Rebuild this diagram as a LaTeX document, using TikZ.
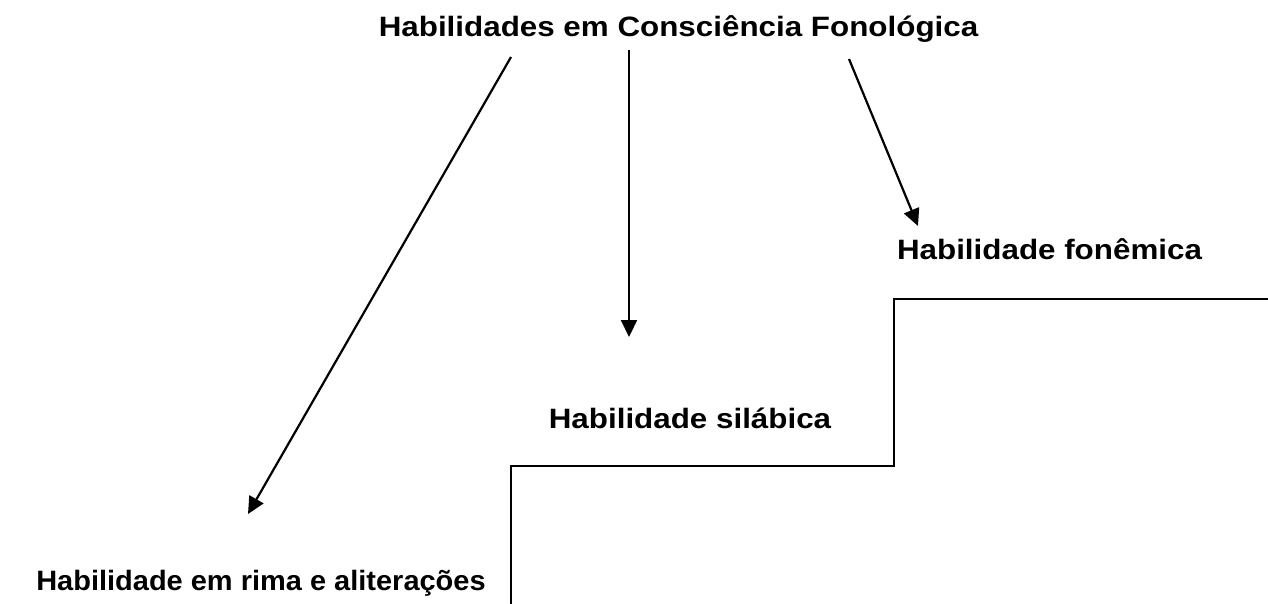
\documentclass[tikz,border=0pt]{standalone}
\usepackage{fontspec}
\setmainfont{Liberation Sans}
\usetikzlibrary{arrows.meta}
\tikzset{
  lbl/.style={font=\fontsize{28}{30}\selectfont\bfseries, inner sep=0pt, anchor=base},
  arr/.style={line width=2.2pt, -{Triangle[length=17pt,width=16pt]}},
  stair/.style={line width=2.2pt, line join=miter}
}
\newcommand{\wide}[2][1.12]{\scalebox{#1}[1]{#2}}
\begin{document}
\begin{tikzpicture}[x=1pt,y=-1pt]
\useasboundingbox (0,0) rectangle (1268,604);
\node[lbl] (title) at (678.5,37) {\wide{Habilidades em Consciência Fonológica}};
\node[lbl] (fon) at (1049.5,259) {\wide{Habilidade fonêmica}};
\node[lbl] (sil) at (690,428) {\wide{Habilidade silábica}};
\node[lbl] (rima) at (261,590) {\wide[1.035]{Habilidade em rima e aliterações}};
\coordinate (s1) at (511,57);
\coordinate (e1) at (248,514);
\coordinate (s2) at (629,50);
\coordinate (e2) at (629,337);
\coordinate (s3) at (849,59);
\coordinate (e3) at (918,226);
\draw[arr] (s1) -- (e1);
\draw[arr] (s2) -- (e2);
\draw[arr] (s3) -- (e3);
\coordinate (p0) at (511,604);
\coordinate (p1) at (511,466);
\coordinate (p2) at (894,466);
\coordinate (p3) at (894,299);
\coordinate (p4) at (1268,299);
\draw[stair] (p0) -- (p1) -- (p2) -- (p3) -- (p4);
\end{tikzpicture}
\end{document}
